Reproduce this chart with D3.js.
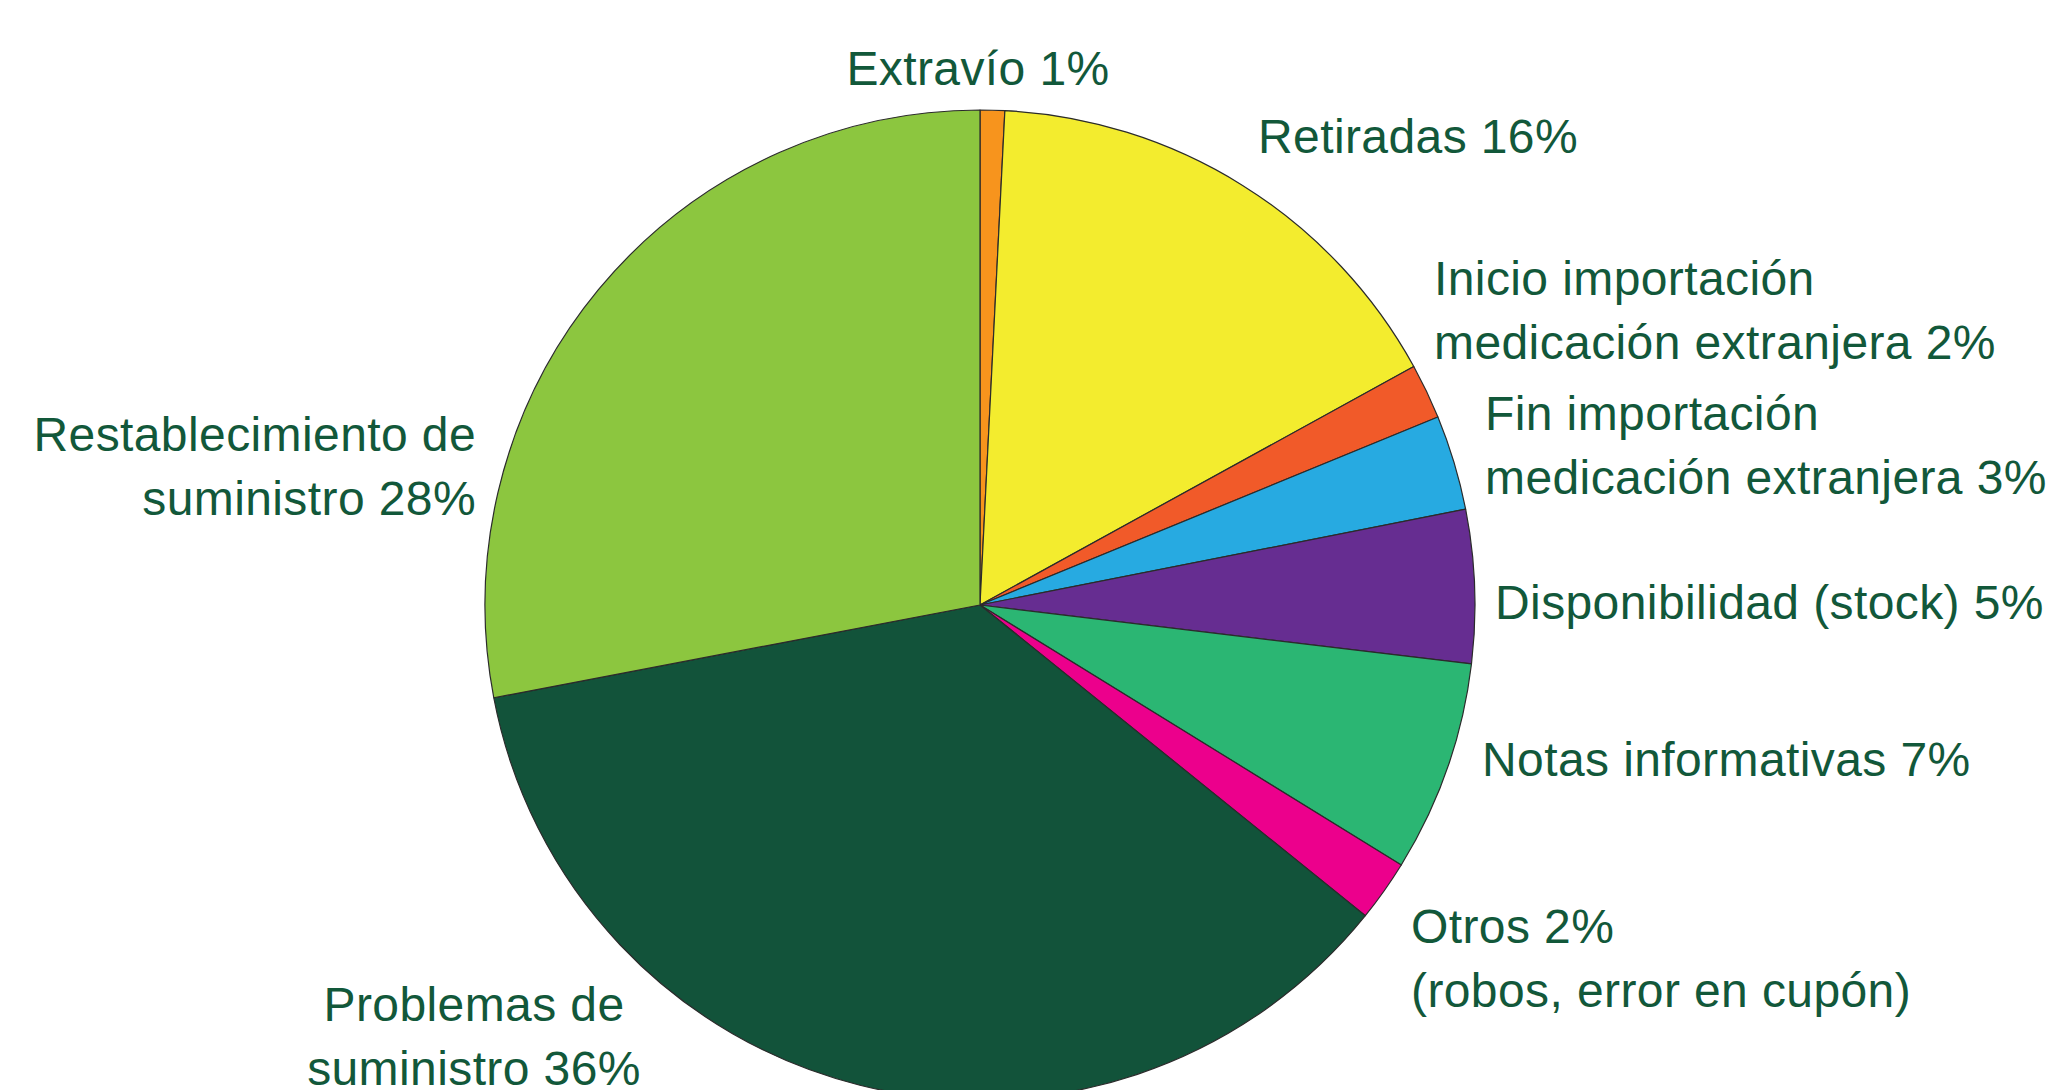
<!DOCTYPE html>
<html lang="es">
<head>
  <meta charset="UTF-8">
  <title>Tipos de comunicaciones</title>
  <script src="https://cdn.jsdelivr.net/npm/d3@7/dist/d3.min.js"></script>
  <style>
    html, body { margin: 0; padding: 0; background: #fff; }
    svg { display: block; }
    .label text {
      font-family: "Liberation Sans", Arial, sans-serif;
      font-size: 48px;
      letter-spacing: 0.4px;
      fill: #12583a;
    }
  </style>
</head>
<body>
<svg width="2055" height="1090"></svg>
<script>
  // categorias (en orden horario desde las 12)
  const categories = [
    "Extravío", "Retiradas", "Inicio importación medicación extranjera",
    "Fin importación medicación extranjera", "Disponibilidad (stock)",
    "Notas informativas", "Otros", "Problemas de suministro",
    "Restablecimiento de suministro"
  ];
  // valores (%)
  const values = [0.8, 16.2, 1.8, 3.1, 5.0, 6.9, 2.0, 36.2, 28.0];
  // textos de las etiquetas, por lineas
  const labelLines = [
    ["Extravío 1%"],
    ["Retiradas 16%"],
    ["Inicio importación", "medicación extranjera 2%"],
    ["Fin importación", "medicación extranjera 3%"],
    ["Disponibilidad (stock) 5%"],
    ["Notas informativas 7%"],
    ["Otros 2%", "(robos, error en cupón)"],
    ["Problemas de", "suministro 36%"],
    ["Restablecimiento de", "suministro 28%"]
  ];
  const colors = ["#f7941d", "#f3ec2e", "#f15a29", "#27aae1", "#662d91",
                  "#2bb673", "#ec008c", "#12533a", "#8cc63f"];

  // posicion de las etiquetas (x, y de la primera linea base, anclaje)
  const labelLayout = [
    { x: 978, y: 85, anchor: "middle" },
    { x: 1258, y: 153, anchor: "start" },
    { x: 1434, y: 295, anchor: "start" },
    { x: 1485, y: 430, anchor: "start" },
    { x: 1495, y: 619, anchor: "start" },
    { x: 1482, y: 776, anchor: "start" },
    { x: 1411, y: 943, anchor: "start" },
    { x: 474, y: 1021, anchor: "middle" },
    { x: 476, y: 451, anchor: "end" }
  ];
  const lineHeight = 64;

  const svg = d3.select("svg");
  const cx = 980, cy = 605, radius = 495;

  const data = categories.map((c, i) => ({ name: c, value: values[i], i: i }));

  const pie = d3.pie()
    .sort(null)
    .value(d => d.value);

  const arc = d3.arc()
    .innerRadius(0)
    .outerRadius(radius);

  const g = svg.append("g")
    .attr("transform", `translate(${cx},${cy})`);

  g.selectAll("path")
    .data(pie(data))
    .join("path")
    .attr("d", arc)
    .attr("fill", d => colors[d.data.i])
    .attr("stroke", "#2b2b2b")
    .attr("stroke-width", 1.2)
    .attr("stroke-linejoin", "round");

  const labels = svg.append("g").attr("class", "label");

  labels.selectAll("text")
    .data(data)
    .join("text")
    .attr("x", d => labelLayout[d.i].x)
    .attr("y", d => labelLayout[d.i].y)
    .attr("text-anchor", d => labelLayout[d.i].anchor)
    .each(function (d) {
      const t = d3.select(this);
      labelLines[d.i].forEach((line, k) => {
        t.append("tspan")
          .attr("x", labelLayout[d.i].x)
          .attr("dy", k === 0 ? 0 : lineHeight)
          .text(line);
      });
    });
</script>
</body>
</html>
